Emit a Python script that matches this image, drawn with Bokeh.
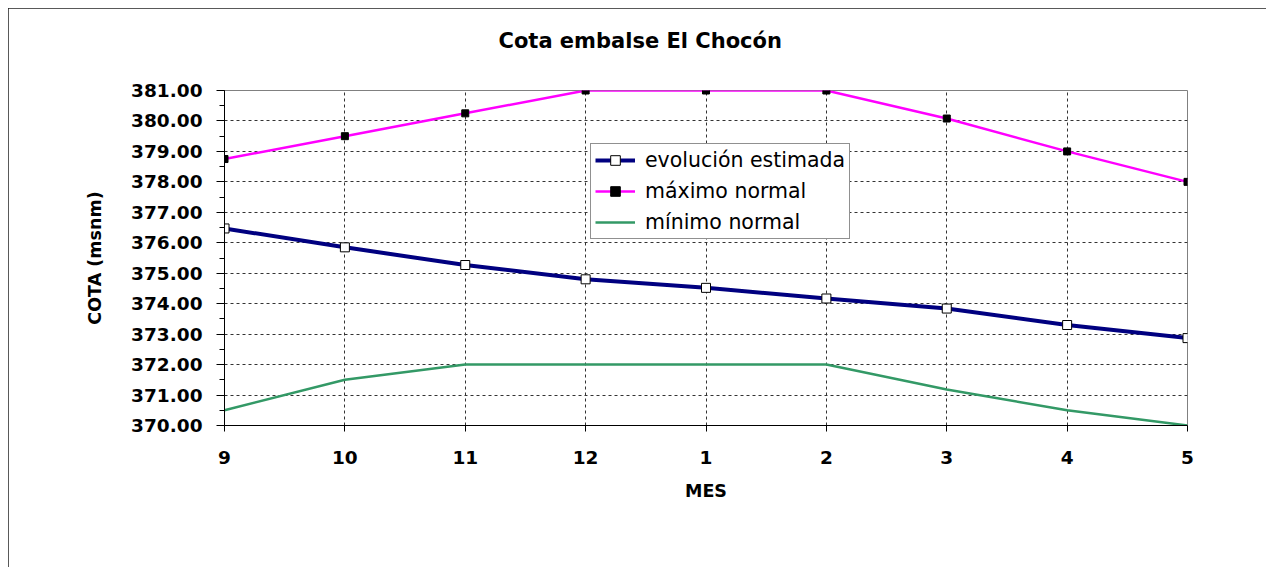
from bokeh.plotting import figure
from bokeh.models import (Range1d, SingleIntervalTicker, FixedTicker, Legend,
                          LegendItem, NumeralTickFormatter, Title)
from bokeh.embed import file_html
from bokeh.resources import INLINE

# ---- data ----
titulo = "Cota embalse El Chocón"
meses = ["9", "10", "11", "12", "1", "2", "3", "4", "5"]
evolucion = [376.47, 375.85, 375.27, 374.80, 374.52, 374.17, 373.84, 373.30, 372.87]
maximo = [378.75, 379.50, 380.25, 381.00, 381.00, 381.00, 380.08, 379.00, 378.00]
minimo = [370.50, 371.50, 372.00, 372.00, 372.00, 372.00, 371.18, 370.50, 370.00]
y_min, y_max = 370, 381

x = list(range(len(meses)))
FONT = "DejaVu Sans"

p = figure(width=1258, height=561, output_backend="svg", toolbar_location=None,
           x_range=Range1d(0, len(meses) - 1), y_range=Range1d(y_min, y_max),
           min_border_left=216, min_border_right=79, min_border_top=82,
           min_border_bottom=144)
p.styles = {"margin": "8px 0px 0px 8px",
            "outline": "2px solid #222222", "outline-offset": "-2px",
            "clip-path": "inset(0px 0px 2px 0px)"}
p.background_fill_color = "white"
p.border_fill_color = "white"
p.outline_line_color = "#808080"
p.outline_line_width = 1

# spacer between title and plot frame
p.add_layout(Title(text=" ", text_font_size="1px", standoff=13), "above")

# title
p.title.text = titulo
p.title.text_font = FONT
p.title.text_font_style = "bold"
p.title.text_font_size = "21px"
p.title.align = "left"
p.title.offset = 274
p.title.vertical_align = "top"
p.title.standoff = 40
p.title.text_color = "black"

# axes
xa = p.xaxis[0]
xa.ticker = FixedTicker(ticks=x)
xa.major_label_overrides = {i: m for i, m in enumerate(meses)}
xa.axis_label = "MES"
ya = p.yaxis[0]
ya.ticker = SingleIntervalTicker(interval=1, num_minor_ticks=2)
ya.formatter = NumeralTickFormatter(format="0.00")
ya.axis_label = "COTA (msnm)"
for ax in (xa, ya):
    ax.axis_line_color = "black"
    ax.axis_line_width = 1
    ax.major_tick_line_color = "black"
    ax.minor_tick_line_color = "black"
    ax.major_tick_in = 0
    ax.minor_tick_in = 0
    ax.major_label_text_font = FONT
    ax.major_label_text_font_style = "bold"
    ax.major_label_text_font_size = "18.5px"
    ax.major_label_text_color = "black"
    ax.axis_label_text_font = FONT
    ax.axis_label_text_font_style = "bold"
    ax.axis_label_text_font_size = "17.5px"
    ax.axis_label_text_color = "black"
xa.major_tick_out = 6
xa.minor_tick_out = 0
xa.major_label_standoff = 19
xa.axis_label_standoff = 14
ya.major_tick_out = 8
ya.minor_tick_out = 5
ya.major_label_standoff = 14
ya.axis_label_standoff = 23

# grids
for g in (p.xgrid[0], p.ygrid[0]):
    g.grid_line_color = "#333333"
    g.grid_line_dash = "3 3"
    g.grid_line_width = 1
p.xgrid[0].ticker = FixedTicker(ticks=x)
p.ygrid[0].ticker = SingleIntervalTicker(interval=1)

# series
l_min = p.line(x, minimo, line_color="#339966", line_width=2.5)
l_max = p.line(x, maximo, line_color="#FF00FF", line_width=2.5)
s_max = p.scatter(x, maximo, marker="square", size=7, fill_color="black",
                  line_color="black")
l_evo = p.line(x, evolucion, line_color="#000080", line_width=4)
s_evo = p.scatter(x, evolucion, marker="square", size=9, fill_color="white",
                  line_color="black", line_width=1)

legend = Legend(items=[
    LegendItem(label="evolución estimada", renderers=[l_evo, s_evo]),
    LegendItem(label="máximo normal", renderers=[l_max, s_max]),
    LegendItem(label="mínimo normal", renderers=[l_min]),
], location=(366, 186))
legend.label_text_font = FONT
legend.label_text_font_size = "20.5px"
legend.label_text_color = "black"
legend.glyph_width = 40
legend.glyph_height = 24
legend.label_height = 24
legend.label_standoff = 10
legend.padding = 4
legend.spacing = 7
legend.margin = 0
legend.border_line_color = "#222222"
legend.border_line_width = 1.5
legend.background_fill_color = "white"
legend.background_fill_alpha = 1
p.add_layout(legend, "center")

open("out.html", "w").write(file_html(p, INLINE))
